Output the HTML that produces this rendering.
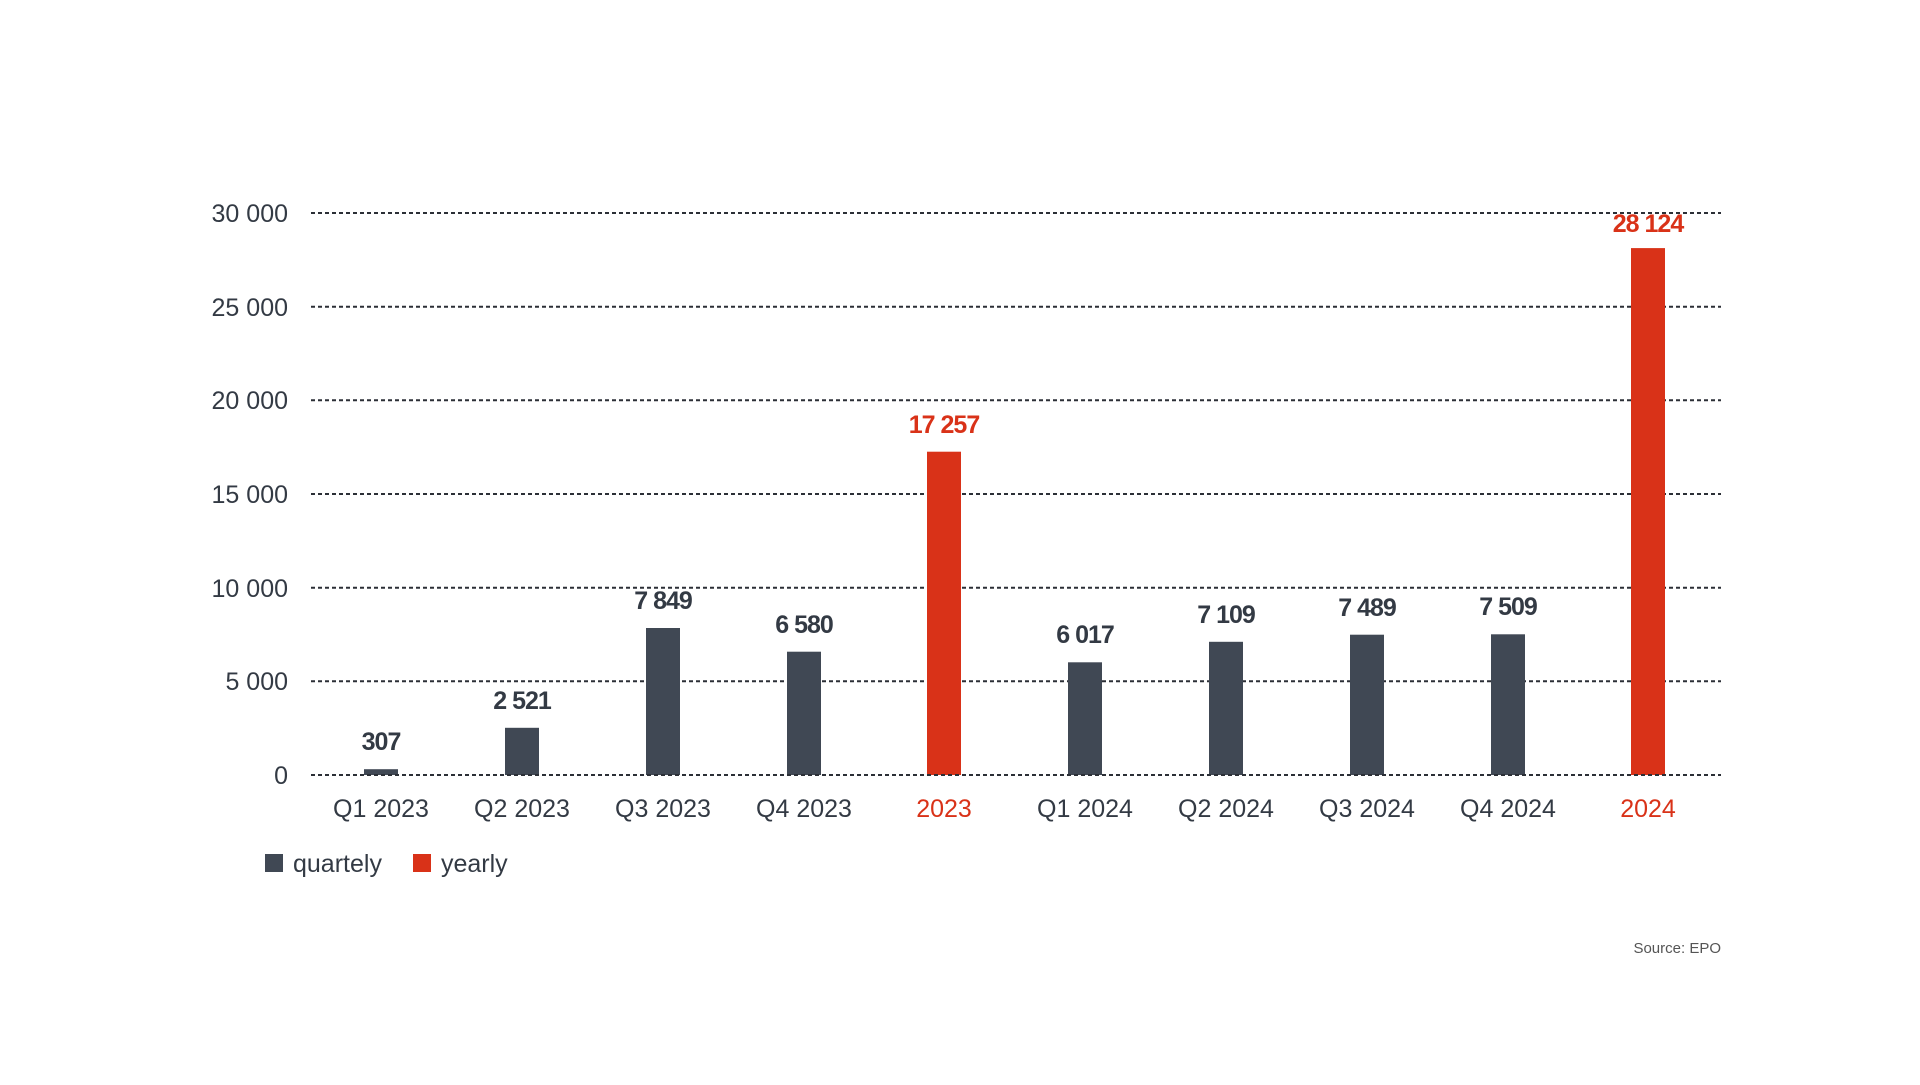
<!DOCTYPE html>
<html><head><meta charset="utf-8"><style>
body{margin:0;background:#fff;width:1920px;height:1080px;overflow:hidden}
</style></head><body>
<svg width="1920" height="1080" xmlns="http://www.w3.org/2000/svg" font-family="Liberation Sans, sans-serif">
<g stroke="#2b2f36" stroke-width="2" stroke-dasharray="4,3">
<line x1="311" x2="1721" y1="213" y2="213"/>
<line x1="311" x2="1721" y1="306.7" y2="306.7"/>
<line x1="311" x2="1721" y1="400.3" y2="400.3"/>
<line x1="311" x2="1721" y1="494" y2="494"/>
<line x1="311" x2="1721" y1="587.7" y2="587.7"/>
<line x1="311" x2="1721" y1="681.3" y2="681.3"/>
</g>
<g font-size="25" fill="#333a44" text-anchor="end">
<text x="288" y="222">30 000</text>
<text x="288" y="316">25 000</text>
<text x="288" y="409">20 000</text>
<text x="288" y="503">15 000</text>
<text x="288" y="597">10 000</text>
<text x="288" y="690">5 000</text>
<text x="288" y="784">0</text>
</g>
<g>
<rect x="364" y="769.2" width="34" height="5.8" fill="#404854"/>
<rect x="505" y="727.8" width="34" height="47.2" fill="#404854"/>
<rect x="646" y="628" width="34" height="147" fill="#404854"/>
<rect x="787" y="651.7" width="34" height="123.3" fill="#404854"/>
<rect x="927" y="451.7" width="34" height="323.3" fill="#d93218"/>
<rect x="1068" y="662.3" width="34" height="112.7" fill="#404854"/>
<rect x="1209" y="641.8" width="34" height="133.2" fill="#404854"/>
<rect x="1350" y="634.7" width="34" height="140.3" fill="#404854"/>
<rect x="1491" y="634.3" width="34" height="140.7" fill="#404854"/>
<rect x="1631" y="248.1" width="34" height="526.9" fill="#d93218"/>
</g>
<line x1="311" x2="1721" y1="775" y2="775" stroke="#2b2f36" stroke-width="2" stroke-dasharray="4,3"/>
<g font-size="25" font-weight="bold" text-anchor="middle" fill="#333a44" letter-spacing="-1">
<text x="381" y="750">307</text>
<text x="522" y="709">2 521</text>
<text x="663" y="609">7 849</text>
<text x="804" y="633">6 580</text>
<text x="944" y="433" fill="#d93218">17 257</text>
<text x="1085" y="643">6 017</text>
<text x="1226" y="623">7 109</text>
<text x="1367" y="616">7 489</text>
<text x="1508" y="615">7 509</text>
<text x="1648" y="232" fill="#d93218">28 124</text>
</g>
<g font-size="25" text-anchor="middle" fill="#333a44">
<text x="381" y="817">Q1 2023</text>
<text x="522" y="817">Q2 2023</text>
<text x="663" y="817">Q3 2023</text>
<text x="804" y="817">Q4 2023</text>
<text x="944" y="817" fill="#d93218">2023</text>
<text x="1085" y="817">Q1 2024</text>
<text x="1226" y="817">Q2 2024</text>
<text x="1367" y="817">Q3 2024</text>
<text x="1508" y="817">Q4 2024</text>
<text x="1648" y="817" fill="#d93218">2024</text>
</g>
<rect x="265" y="854" width="18" height="18" fill="#404854"/>
<text x="293" y="872" font-size="25" fill="#333a44">quartely</text>
<rect x="413" y="854" width="18" height="18" fill="#d93218"/>
<text x="441" y="872" font-size="25" fill="#333a44">yearly</text>
<text x="1721" y="953" font-size="15" fill="#555" text-anchor="end">Source: EPO</text>
</svg>
</body></html>
